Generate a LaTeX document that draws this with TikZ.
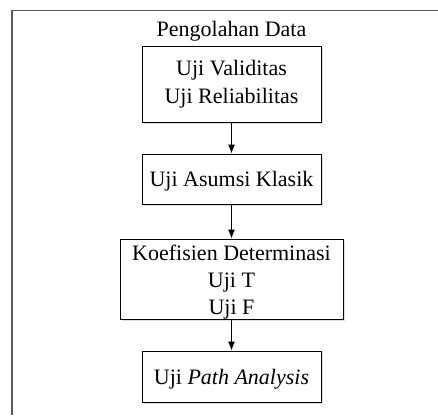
\documentclass[tikz,border=0pt]{standalone}
\usepackage{fontspec}
\setmainfont{Liberation Serif}
\usetikzlibrary{arrows.meta}
\begin{document}
\begin{tikzpicture}[x=1pt,y=-1pt,
  box/.style={draw=black,line width=1pt,fill=white,inner sep=0pt},
  txt/.style={anchor=base,inner sep=0pt,font=\fontsize{22}{27}\selectfont},
  conn/.style={-{Latex[length=9pt,width=7pt]},line width=1pt},
  shadowbox/.style={fill=blue!20!gray!22,draw=none}]
\useasboundingbox (0,0) rectangle (438,415);
\draw[gray!70!black,line width=1.5pt] (438,10.5) -- (12,10.5) -- (12,415);
\node[txt] (title) at (231.5,36) {Pengolahan Data};
% shadows
\fill[shadowbox] (144,48) rectangle (323,124);
\fill[shadowbox] (144,156) rectangle (323,206);
\fill[shadowbox] (122,241) rectangle (345,321);
\fill[shadowbox] (144,353) rectangle (323,404);
\node[box,minimum width=179pt,minimum height=76pt] (b1) at (231.5,84) {};
\node[box,minimum width=179pt,minimum height=50pt] (b2) at (231.5,179) {};
\node[box,minimum width=223pt,minimum height=80pt] (b3) at (231.5,279) {};
\node[box,minimum width=179pt,minimum height=51pt] (b4) at (231.5,376.5) {};
\node[txt] (t1a) at (231.5,75.5) {Uji Validitas};
\node[txt] (t1b) at (231.5,103) {Uji Reliabilitas};
\node[txt] (t2) at (231.5,186.5) {Uji Asumsi Klasik};
\node[txt] (t3a) at (231.5,260) {Koefisien Determinasi};
\node[txt] (t3b) at (231.5,287) {Uji T};
\node[txt] (t3c) at (231.5,314) {Uji F};
\node[txt] (t4) at (231.5,384) {Uji \textit{Path Analysis}};
\draw[conn] (b1) -- (b2);
\draw[conn] (b2) -- (b3);
\draw[conn] (b3) -- (b4);
\end{tikzpicture}
\end{document}
